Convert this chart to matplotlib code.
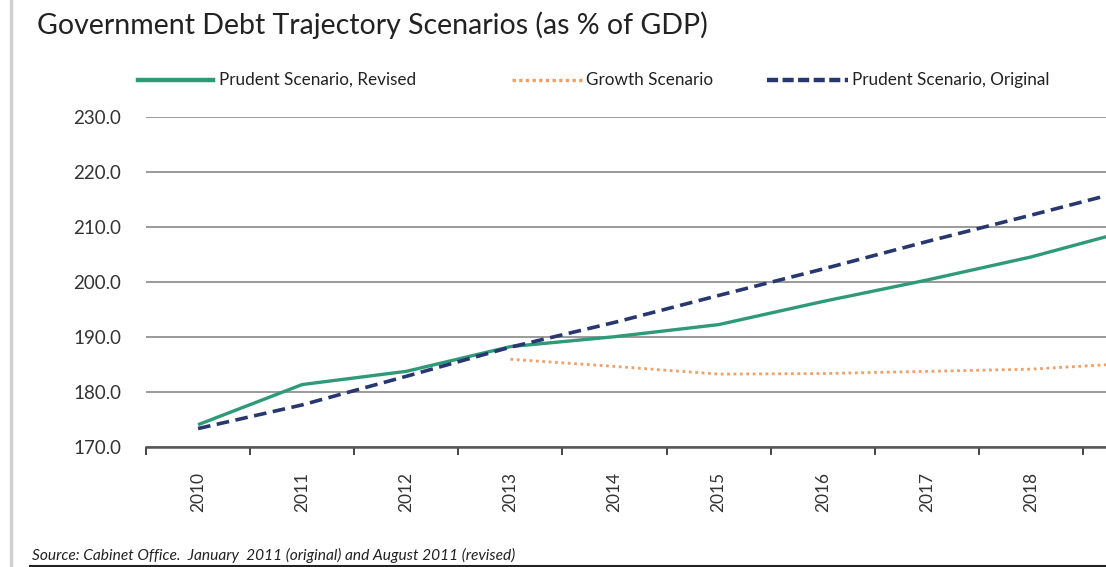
import matplotlib
matplotlib.use('Agg')
import matplotlib.pyplot as plt
from matplotlib.lines import Line2D
import numpy as np

# values (% of GDP)
years = ['2010', '2011', '2012', '2013', '2014', '2015', '2016', '2017', '2018', '2019']
prudent_revised = [174.0, 181.3, 183.7, 188.2, 190.0, 192.2, 196.4, 200.3, 204.5, 209.6]
prudent_original = [173.3, 177.6, 182.8, 188.1, 192.6, 197.5, 202.3, 207.3, 212.1, 217.0]
growth = [np.nan, np.nan, np.nan, 185.9, 184.6, 183.2, 183.3, 183.7, 184.1, 185.2]
y_ticks = [170, 180, 190, 200, 210, 220, 230]

GREEN = '#2e9a78'
NAVY = '#28386e'
ORANGE = '#eea06a'

plt.rcParams['font.family'] = ['Lato', 'DejaVu Sans']

W, H = 1106, 567
fig = plt.figure(figsize=(W / 100, H / 100), dpi=100)
ax = fig.add_axes([146 / W, 1 - 446.7 / H, 1 - 146 / W, (446.7 - 116.7) / H])

x = np.arange(len(years))
ax.plot(x, prudent_revised, color=GREEN, lw=2.4, solid_capstyle='butt', zorder=3)
ax.plot(x, growth, color=ORANGE, lw=2.0, linestyle=(0, (1, 1.3)), zorder=3)
ax.plot(x, prudent_original, color=NAVY, lw=2.6, linestyle=(0, (3.5, 1.8)), zorder=4)

ax.set_yticks(y_ticks)
ax.set_yticklabels(['%.1f' % v for v in y_ticks], fontsize=13.5, color='#333333')
ax.grid(axis='y', color='#9a9a9a', lw=1.4)
ax.set_axisbelow(True)

# ticks at category boundaries, labels at centres
ax.set_xticks(np.arange(len(years)) - 0.5)
ax.set_xticklabels([])
ax.set_xticks(x, minor=True)
ax.set_xticklabels(years, minor=True, rotation=90, fontsize=12.5, color='#333333')
ax.tick_params(axis='x', which='major', length=6, width=1.4, color='#444444', direction='out')
ax.tick_params(axis='x', which='minor', length=0, pad=18)
ax.tick_params(axis='y', length=0, pad=18)

# limits after the ticks, the chart is cut off part way into 2019
ax.set_ylim(170, 230)
ax.set_xlim(-0.5, 8.72)

for s in ['top', 'right', 'left']:
    ax.spines[s].set_visible(False)
ax.spines['bottom'].set_color('#555555')
ax.spines['bottom'].set_linewidth(1.8)

# title
fig.text(37 / W, 1 - 25 / H, 'Government Debt Trajectory Scenarios (as % of GDP)',
         fontsize=20.5, color='#222222', va='center', ha='left')

# legend drawn by hand to match spacing
ly = 1 - 80 / H
entries = [
    (138, 213, 219, 'Prudent Scenario, Revised', dict(color=GREEN, lw=3.2)),
    (512, 582, 586, 'Growth Scenario', dict(color=ORANGE, lw=2.4, linestyle=(0, (1, 1)))),
    (767, 848, 852, 'Prudent Scenario, Original', dict(color=NAVY, lw=3.2, linestyle=(0, (2.5, 1)))),
]
for x0, x1, tx, label, style in entries:
    fig.add_artist(Line2D([x0 / W, x1 / W], [ly, ly], transform=fig.transFigure, **style))
    fig.text(tx / W, ly, label, fontsize=12.3, color='#222222', va='center', ha='left')

# source note and frame lines
fig.text(32 / W, 1 - 555 / H,
         'Source: Cabinet Office.  January  2011 (original) and August 2011 (revised)',
         fontsize=11.2, style='italic', color='#222222', va='center', ha='left')
fig.add_artist(Line2D([30 / W, 1.0], [1 - 565.5 / H, 1 - 565.5 / H], transform=fig.transFigure,
                      color='#222222', lw=1.5))
fig.add_artist(Line2D([11 / W, 11 / W], [0, 1], transform=fig.transFigure,
                      color='#d0d0d0', lw=2.5))

fig.savefig('out.png', dpi=100)
